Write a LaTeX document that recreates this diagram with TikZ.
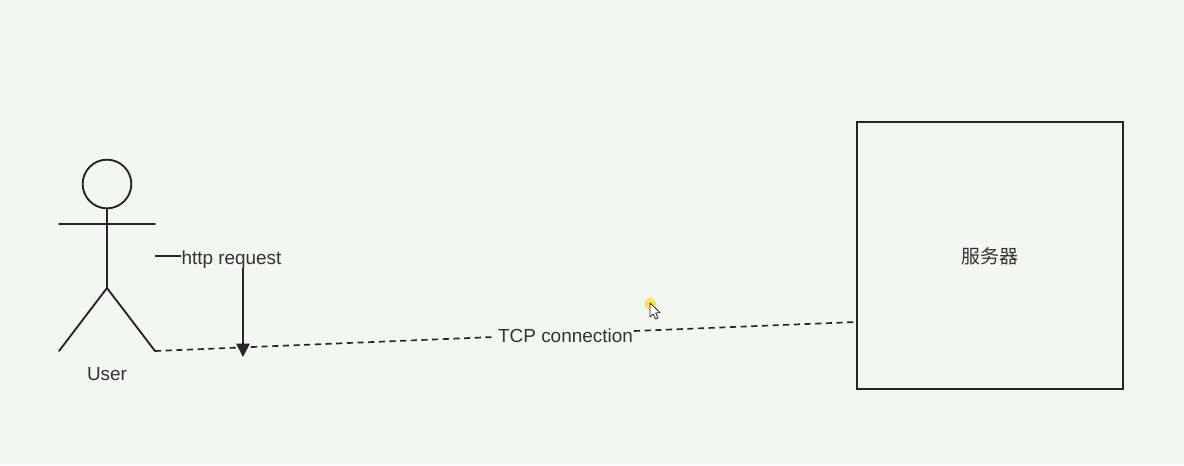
\documentclass[tikz,border=0pt]{standalone}
\usepackage{fontspec}
\setmainfont{Liberation Sans}
\newfontfamily\cjk{Noto Sans CJK SC}
\usetikzlibrary{arrows.meta}
\definecolor{bgc}{HTML}{F4F6F3}
\definecolor{ink}{HTML}{262626}
\definecolor{txt}{HTML}{333333}
\tikzset{
  px/.style={x=0.75pt,y=-0.75pt},
  figure/.style={draw=ink,line width=1.4pt,line cap=round},
  label/.style={text=txt,font=\fontsize{14.2pt}{16pt}\selectfont,inner sep=0pt},
  dashline/.style={draw=ink,line width=1.25pt,dash pattern=on 4.6pt off 3.4pt},
  link/.style={draw=ink,line width=1.3pt},
}
\begin{document}
\begin{tikzpicture}[px]
  \fill[bgc] (0,0) rectangle (1184,465);
  \useasboundingbox (0,0) rectangle (1184,465);
  % actor
  \node[circle,draw=ink,line width=1.4pt,minimum size=36.5pt,inner sep=0pt] (head) at (107,184) {};
  \coordinate (neck) at (head.south);
  \coordinate (hip) at (107,288);
  \coordinate (armL) at (59,224);
  \coordinate (armR) at (155,224);
  \coordinate (footL) at (59,351);
  \coordinate (footR) at (155,351);
  \draw[figure] (neck) -- (hip);
  \draw[figure] (armL) -- (armR);
  \draw[figure] (footL) -- (hip) -- (footR);
  \node[label] (user) at (107,374.5) {User};
  % server
  \node[rectangle,draw=ink,line width=1.4pt,minimum width=200pt,minimum height=200pt,inner sep=0pt] (server) at (990,255.5) {};
  \node[label] (srvlabel) at (990,256) {\cjk 服务器};
  % TCP connection
  \coordinate (tcpleft) at (494,337);
  \coordinate (tcpright) at (634,331);
  \node[label] (tcp) at (565.5,336) {TCP connection};
  \draw[dashline] (footR) -- (tcpleft);
  \draw[dashline] (tcpright) -- (server.west |- 0,322);
  % http request
  \coordinate (reqstart) at (155,256);
  \coordinate (reqend) at (243,357);
  \node[label] (http) at (231.5,259.5) {http request};
  \draw[link] (reqstart) -- (http.west |- reqstart);
  \draw[link,-{Triangle[length=10pt,width=10pt]}] (243,268) -- (reqend);
  % mouse cursor
  \fill[yellow!75!orange,opacity=.6] (650.5,304) circle[radius=6];
  \draw[fill=white,draw=ink,line width=.6pt,line join=round] (650,303) -- (650,317) -- (653.2,314) -- (655.6,319) -- (658,318) -- (655.6,313) -- (660,312.6) -- cycle;
\end{tikzpicture}
\end{document}
